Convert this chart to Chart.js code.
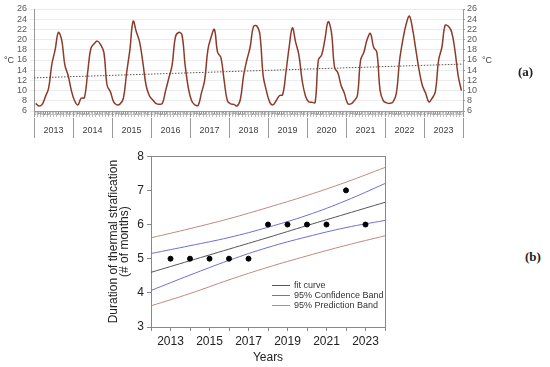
<!DOCTYPE html>
<html>
<head>
<meta charset="utf-8">
<script src="https://cdn.jsdelivr.net/npm/chart.js@4.4.1/dist/chart.umd.min.js"></script>
<style>
  body { margin: 0; width: 550px; height: 367px; background: #fff; position: relative; overflow: hidden; font-family: "Liberation Sans", Arial, sans-serif; }
  #wrapA { position: absolute; left: 0; top: 0; width: 500px; height: 142px; }
  #wrapB { position: absolute; left: 100px; top: 146px; width: 290px; height: 221px; }
  .unit { position: absolute; font-size: 9px; color: #404040; }
  .panel { position: absolute; font-family: "Liberation Serif", serif; font-weight: bold; font-size: 13px; color: #222; }
  #legendB { position: absolute; left: 272px; top: 280px; font-size: 9px; color: #333; }
  #legendB div { height: 10px; line-height: 10px; white-space: nowrap; }
  #legendB span.sw { display: inline-block; width: 18px; height: 0; border-top: 1px solid; vertical-align: middle; margin-right: 4px; }
</style>
</head>
<body>
<div id="wrapA"><canvas id="chartA"></canvas></div>
<div id="wrapB"><canvas id="chartB"></canvas></div>
<div class="unit" style="left:4px; top:55px;">°C</div>
<div class="unit" style="left:482px; top:55px;">°C</div>
<div class="panel" style="left:518px; top:64px;">(a)</div>
<div class="panel" style="left:525px; top:249px;">(b)</div>
<div id="legendB"></div>
<script>
(() => {
  'use strict'

  // panel (a): monthly water temperature, Jan 2013 - Dec 2023
  const years = ['2013', '2014', '2015', '2016', '2017', '2018', '2019', '2020', '2021', '2022', '2023']
  const monthLetters = ['J', 'F', 'M', 'A', 'M', 'J', 'J', 'A', 'S', 'O', 'N', 'D']
  const temp2013 = [7.5, 7.0, 7.3, 8.8, 10.5, 15.2, 18.0, 21.4, 20.0, 15.0, 13.0, 10.0]
  const temp2014 = [8.0, 7.2, 8.5, 8.6, 13.5, 18.3, 19.2, 19.7, 19.0, 17.5, 11.0, 9.8]
  const temp2015 = [7.8, 7.2, 7.4, 8.5, 13.5, 18.0, 23.6, 21.5, 19.5, 15.5, 11.0, 9.0]
  const temp2016 = [8.2, 7.5, 7.3, 7.5, 10.0, 12.5, 15.0, 20.5, 21.4, 21.0, 15.0, 10.5]
  const temp2017 = [8.0, 7.2, 7.1, 9.5, 12.0, 18.0, 20.5, 22.0, 17.5, 16.5, 12.0, 8.0]
  const temp2018 = [7.4, 7.3, 7.0, 8.3, 13.0, 16.0, 18.5, 22.5, 22.7, 21.0, 13.0, 10.0]
  const temp2019 = [7.8, 7.2, 8.0, 9.0, 9.2, 13.5, 18.5, 22.3, 19.5, 17.0, 12.0, 9.0]
  const temp2020 = [7.8, 7.7, 7.7, 16.0, 17.0, 20.0, 23.5, 21.5, 14.5, 13.5, 11.0, 9.5]
  const temp2021 = [7.5, 7.4, 8.0, 9.0, 16.0, 17.5, 20.0, 21.2, 18.5, 17.5, 10.0, 8.0]
  const temp2022 = [7.6, 7.5, 7.8, 9.5, 16.0, 20.0, 23.0, 24.6, 22.0, 18.0, 14.0, 11.0]
  const temp2023 = [9.5, 7.8, 8.5, 9.8, 16.0, 18.5, 22.8, 22.6, 21.5, 18.0, 13.0, 10.0]
  const trendEnds = [12.5, 15.2]

  // panel (b): duration of thermal stratification
  const stratYears = [2013, 2014, 2015, 2016, 2017, 2018, 2019, 2020, 2021, 2022, 2023]
  const stratMonths = [5, 5, 5, 5, 5, 6, 6, 6, 6, 7, 6]
  const bandYears = [2012, 2014, 2016, 2018, 2020, 2022, 2024]
  const fitCurve = [4.6, 4.94, 5.28, 5.62, 5.97, 6.31, 6.65]
  const confUpper = [5.15, 5.38, 5.62, 5.92, 6.27, 6.7, 7.2]
  const confLower = [4.07, 4.52, 4.95, 5.33, 5.64, 5.91, 6.12]
  const predUpper = [5.61, 5.88, 6.17, 6.5, 6.85, 7.24, 7.67]
  const predLower = [3.62, 3.98, 4.38, 4.75, 5.08, 5.39, 5.67]

  const monthly = [].concat(temp2013, temp2014, temp2015, temp2016, temp2017, temp2018,
    temp2019, temp2020, temp2021, temp2022, temp2023)
  const nMonths = monthly.length
  const fontA = { family: '"Liberation Sans", Arial, sans-serif', size: 9 }

  new Chart(document.getElementById('chartA'), {
    type: 'line',
    data: {
      datasets: [{
        data: monthly.map((v, i) => ({ x: i + 0.5, y: v })),
        borderColor: '#8c3b2b',
        borderWidth: 1.5,
        pointRadius: 0,
        tension: 0.4
      }, {
        data: [{ x: 0, y: trendEnds[0] }, { x: nMonths, y: trendEnds[1] }],
        borderColor: '#555',
        borderWidth: 1,
        borderDash: [1.5, 1.5],
        pointRadius: 0
      }]
    },
    options: {
      responsive: true,
      maintainAspectRatio: false,
      animation: false,
      layout: { padding: { top: 9, bottom: 0, left: 0, right: 0 } },
      plugins: { legend: { display: false }, tooltip: { enabled: false } },
      scales: {
        x: {
          type: 'linear', position: 'bottom', min: 0, max: nMonths,
          afterFit: s => { s.height = 7 },
          border: { color: '#999' },
          grid: {
            drawOnChartArea: false, tickLength: 6,
            color: c => (c.tick && c.tick.value % 12 === 0) ? '#999' : '#bbb'
          },
          ticks: {
            stepSize: 1, autoSkip: false, maxRotation: 0, padding: -6, labelOffset: 1.6,
            font: { family: fontA.family, size: 4 }, color: '#666',
            callback: v => v < nMonths ? monthLetters[v % 12] : ''
          }
        },
        xYear: {
          type: 'linear', position: 'bottom', min: 0, max: nMonths,
          afterFit: s => { s.height = 24 },
          border: { display: false },
          grid: { drawOnChartArea: false, tickLength: 20, color: '#999' },
          ticks: {
            stepSize: 12, autoSkip: false, maxRotation: 0, padding: -13, labelOffset: 19.5,
            font: fontA, color: '#404040',
            callback: v => v < nMonths ? years[v / 12] : ''
          }
        },
        y: {
          min: 6, max: 26, position: 'left',
          afterFit: s => { s.width = 34 },
          border: { color: '#999' },
          grid: { color: '#ececec', tickLength: 4 },
          ticks: { stepSize: 2, autoSkip: false, font: fontA, color: '#595959', padding: 3 }
        },
        y2: {
          min: 6, max: 26, position: 'right',
          afterFit: s => { s.width = 37 },
          border: { color: '#999' },
          grid: { drawOnChartArea: false, tickLength: 2, color: '#999' },
          ticks: { stepSize: 2, autoSkip: false, font: fontA, color: '#595959', padding: 2 }
        }
      }
    }
  })

  const fontB = { family: '"Liberation Sans", Arial, sans-serif', size: 12 }
  const toPts = (xs, ys) => xs.map((x, i) => ({ x: x, y: ys[i] }))
  const bandStyle = { borderWidth: 1, pointRadius: 0, tension: 0.4 }

  const chartB = new Chart(document.getElementById('chartB'), {
    type: 'line',
    data: {
      datasets: [{
        data: toPts(stratYears, stratMonths),
        showLine: false,
        pointRadius: 2.5,
        pointBackgroundColor: '#000',
        pointBorderColor: '#000'
      }, {
        label: 'fit curve',
        data: toPts(bandYears, fitCurve),
        borderColor: '#555', ...bandStyle
      }, {
        label: '95% Confidence Band',
        data: toPts(bandYears, confUpper),
        borderColor: '#6e6ed2', ...bandStyle
      }, {
        data: toPts(bandYears, confLower),
        borderColor: '#6e6ed2', ...bandStyle
      }, {
        label: '95% Prediction Band',
        data: toPts(bandYears, predUpper),
        borderColor: '#c0897f', ...bandStyle
      }, {
        data: toPts(bandYears, predLower),
        borderColor: '#c0897f', ...bandStyle
      }]
    },
    options: {
      responsive: true,
      maintainAspectRatio: false,
      animation: false,
      layout: { padding: 0 },
      plugins: { legend: { display: false }, tooltip: { enabled: false } },
      scales: {
        x: {
          type: 'linear', position: 'bottom', min: 2012, max: 2024,
          afterFit: s => { s.height = 40 },
          border: { color: '#888' },
          grid: { drawOnChartArea: false, tickLength: 4, color: '#888' },
          ticks: {
            stepSize: 1, autoSkip: false, maxRotation: 0, padding: 3,
            font: fontB, color: '#222',
            callback: v => v % 2 ? String(v) : ''
          },
          title: { display: true, text: 'Years', font: fontB, color: '#222', padding: { top: 2, bottom: 2 } }
        },
        xTop: {
          type: 'linear', position: 'top', min: 2012, max: 2024,
          afterFit: s => { s.height = 10 },
          border: { color: '#888' },
          grid: { drawOnChartArea: false, drawTicks: false },
          ticks: { display: false }
        },
        y: {
          min: 3, max: 8, position: 'left',
          afterFit: s => { s.width = 51 },
          border: { color: '#888' },
          grid: { drawOnChartArea: false, tickLength: 4, color: '#888' },
          ticks: { stepSize: 1, font: fontB, color: '#222', padding: 3 },
          title: {
            display: true,
            text: ['Duration of thermal strafication', '(# of months)'],
            font: { family: fontB.family, size: 12, lineHeight: 0.95 },
            color: '#222', padding: { top: 8, bottom: 2 }
          }
        },
        yRight: {
          min: 3, max: 8, position: 'right',
          afterFit: s => { s.width = 3 },
          border: { color: '#888' },
          grid: { drawOnChartArea: false, drawTicks: false },
          ticks: { display: false }
        }
      }
    }
  })

  // legend for (b), placed inside the plot like the original
  const legend = document.getElementById('legendB')
  chartB.data.datasets.filter(d => d.label).forEach(d => {
    const row = document.createElement('div')
    const sw = document.createElement('span')
    sw.className = 'sw'
    sw.style.borderTopColor = d.borderColor
    row.appendChild(sw)
    row.appendChild(document.createTextNode(d.label))
    legend.appendChild(row)
  })
})()
</script>
</body>
</html>
